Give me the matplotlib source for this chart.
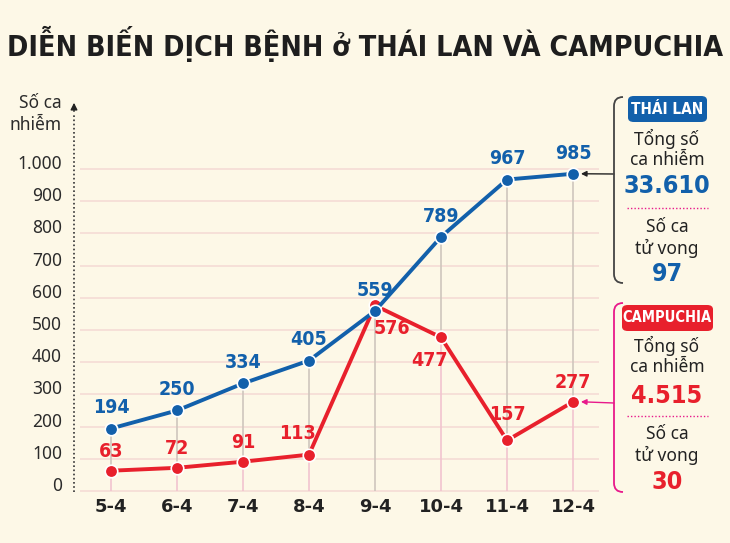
import matplotlib
matplotlib.use('Agg')
import matplotlib.pyplot as plt
from matplotlib.path import Path
from matplotlib.patches import PathPatch, FancyBboxPatch

# data
dates = ['5-4', '6-4', '7-4', '8-4', '9-4', '10-4', '11-4', '12-4']
thai = [194, 250, 334, 405, 559, 789, 967, 985]
cam = [63, 72, 91, 113, 576, 477, 157, 277]
yticks = [0, 100, 200, 300, 400, 500, 600, 700, 800, 900, 1000]
ytick_labels = ['0', '100', '200', '300', '400', '500', '600', '700', '800', '900', '1.000']
thai_total = '33.610'
thai_deaths = '97'
cam_total = '4.515'
cam_deaths = '30'

bg = '#FDF8E7'
blue = '#1260AB'
red = '#E8202C'
pink = '#E8198B'
narrow = dict(family='DejaVu Sans', fontstretch='condensed', fontweight='bold')
regular = ['Noto Sans', 'DejaVu Sans']

W, H = 730, 543
fig = plt.figure(figsize=(W / 100, H / 100), dpi=100, facecolor=bg)

def fx(x):
    return x / W

def fy(y):
    return 1 - y / H

# axes box in pixels: x 74..610, y 100..495 ; value 0 at y=491, 0.322 px per unit
ax = fig.add_axes([fx(74), fy(495), (610 - 74) / W, (495 - 100) / H])
ax.set_facecolor(bg)
ax.set_xlim(-0.56, 7.56)
ax.set_ylim(-12.4, 1214)
for s in ax.spines.values():
    s.set_visible(False)
ax.set_xticks([])
ax.set_yticks([])

x = list(range(len(dates)))

# grid lines
ax.hlines(yticks, -0.47, 7.4, color='#F5DCD6', lw=1.2, zorder=1)

# drop lines
for i in x:
    lo = min(thai[i], cam[i])
    hi = max(thai[i], cam[i])
    ax.vlines(i, lo, hi, color='#CFC6BD', lw=1.2, zorder=2)
    bottom_col = '#F2C4CF' if cam[i] < thai[i] else '#CFC6BD'
    ax.vlines(i, 0, lo, color=bottom_col, lw=1.2, zorder=2)

# y axis arrow (dotted)
ax.plot([-0.56, -0.56], [-4, 1170], color='#333333', lw=1.2, ls=(0, (1, 1.5)), clip_on=False, zorder=3)
ax.annotate('', xy=(-0.56, 1214), xytext=(-0.56, 1170),
            arrowprops=dict(arrowstyle='-|>', color='#222222', lw=1, mutation_scale=10),
            annotation_clip=False)

# y tick labels
for v, lab in zip(yticks, ytick_labels):
    fig.text(fx(62), fy(491 - 0.322 * v - 5), lab, ha='right', va='center',
             fontsize=12.5, color='#2B2B2B', family=regular)
fig.text(fx(62), fy(103), 'Số ca', ha='right', va='center', fontsize=12.5, color='#2B2B2B', family=regular)
fig.text(fx(62), fy(125), 'nhiễm', ha='right', va='center', fontsize=12.5, color='#2B2B2B', family=regular)

# lines
ax.plot(x, cam, color=red, lw=2.8, marker='o', ms=9, mec='white', mew=1.2, zorder=5)
ax.plot(x, thai, color=blue, lw=2.8, marker='o', ms=9, mec='white', mew=1.2, zorder=6)

# value labels
for i in x:
    ax.annotate(str(thai[i]), (i, thai[i]), xytext=(0, 8), textcoords='offset points',
                ha='center', va='bottom', fontsize=14, color=blue, zorder=7, **narrow)
for i in x:
    if i == 3:
        off, va = (-8, 8), 'bottom'
    elif i == 4:
        off, va = (12, -10), 'top'
    elif i == 5:
        off, va = (-8, -10), 'top'
    elif i == 6:
        off, va = (0, 12), 'bottom'
    else:
        off, va = (0, 7), 'bottom'
    ax.annotate(str(cam[i]), (i, cam[i]), xytext=off, textcoords='offset points',
                ha='center', va=va, fontsize=14, color=red, zorder=7, **narrow)

# x labels
for i, d in enumerate(dates):
    fig.text(fx(111 + 66 * i), fy(498), d, ha='center', va='top', fontsize=13,
             fontweight='bold', color='#222222', family='DejaVu Sans')

# title
fig.text(fx(365), fy(44), 'DIỄN BIẾN DỊCH BỆNH ở THÁI LAN VÀ CAMPUCHIA', ha='center', va='center',
         fontsize=20.5, color='#1E1E1E', **narrow)

# right panel
def bracket(top, bottom, xb, color):
    r = 9
    verts = [(xb + r, top), (xb, top), (xb, top + r), (xb, bottom - r), (xb, bottom), (xb + r, bottom)]
    codes = [Path.MOVETO, Path.CURVE3, Path.CURVE3, Path.LINETO, Path.CURVE3, Path.CURVE3]
    verts = [(fx(a), fy(b)) for a, b in verts]
    fig.add_artist(PathPatch(Path(verts, codes), fill=False, ec=color, lw=1.3, transform=fig.transFigure))

def panel(box_y, box_x0, box_x1, name, color, total, deaths, ys, name_size):
    box = FancyBboxPatch((fx(box_x0), fy(box_y + 13)), fx(box_x1 - box_x0), (26 / H),
                         boxstyle='round,pad=0,rounding_size=0.008', fc=color, ec='none',
                         transform=fig.transFigure)
    fig.add_artist(box)
    cx = fx(667)
    fig.text(cx, fy(box_y), name, ha='center', va='center', fontsize=name_size, color='white', **narrow)
    fig.text(cx, fy(ys[0]), 'Tổng số', ha='center', va='center', fontsize=12.5, color='#222222', family=regular)
    fig.text(cx, fy(ys[1]), 'ca nhiễm', ha='center', va='center', fontsize=12.5, color='#222222', family=regular)
    fig.text(cx, fy(ys[2]), total, ha='center', va='center', fontsize=18, color=color, **narrow)
    fig.add_artist(plt.Line2D([fx(627), fx(708)], [fy(ys[3]), fy(ys[3])], color=pink, lw=1,
                              ls=(0, (1, 1.5)), transform=fig.transFigure))
    fig.text(cx, fy(ys[4]), 'Số ca', ha='center', va='center', fontsize=12.5, color='#222222', family=regular)
    fig.text(cx, fy(ys[5]), 'tử vong', ha='center', va='center', fontsize=12.5, color='#222222', family=regular)
    fig.text(cx, fy(ys[6]), deaths, ha='center', va='center', fontsize=18, color=color, **narrow)

bracket(97, 283, 614, '#444444')
bracket(303, 492, 614, pink)
panel(109, 628, 707, 'THÁI LAN', blue, thai_total, thai_deaths, [139, 160, 186, 208, 227, 248, 274], 11)
panel(318, 622, 713, 'CAMPUCHIA', red, cam_total, cam_deaths, [346, 367, 396, 416, 434, 455, 482], 10.5)

# arrows from brackets to last points
ax.annotate('', xy=(7.12, thai[-1]), xytext=(fx(614), fy(174)), textcoords='figure fraction',
            arrowprops=dict(arrowstyle='-|>', color='#222222', lw=1, mutation_scale=8,
                            shrinkA=0, shrinkB=0), annotation_clip=False)
ax.annotate('', xy=(7.12, cam[-1]), xytext=(fx(614), fy(403)), textcoords='figure fraction',
            arrowprops=dict(arrowstyle='-|>', color=pink, lw=1, mutation_scale=8,
                            shrinkA=0, shrinkB=0), annotation_clip=False)

fig.savefig('out.png', dpi=100, facecolor=bg)
